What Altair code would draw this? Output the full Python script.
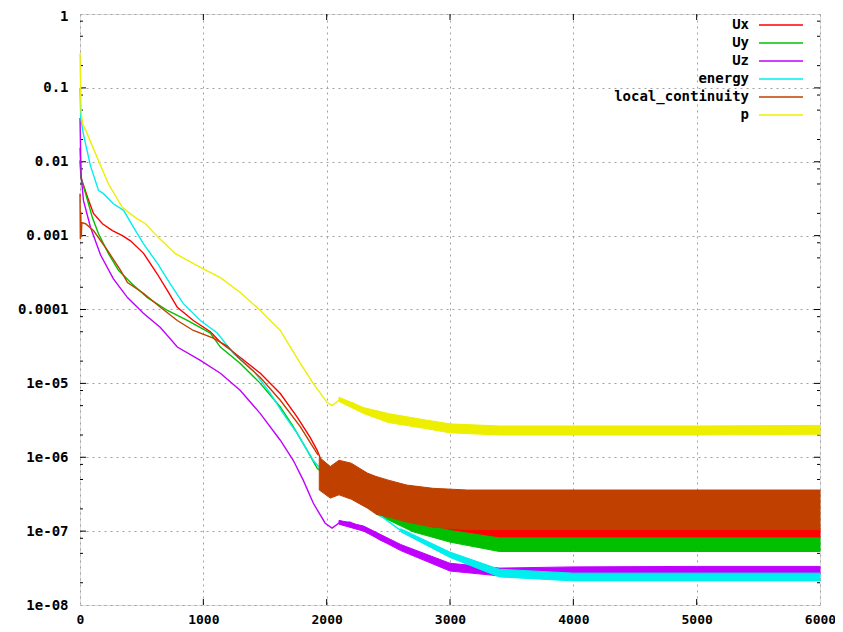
import altair as alt
import pandas as pd

SERIES = ["Ux", "Uy", "Uz", "energy", "local_continuity", "p"]
COLORS = ["#ff0000", "#00c000", "#c000ff", "#00eeee", "#c04000", "#eeee00"]

# ---- smooth parts (iteration, residual) ----
ux_x = [0, 8, 61, 109, 182, 263, 344, 409, 514, 628, 709, 789, 919, 1057, 1138, 1300, 1462, 1624, 1761, 1866, 1923, 1988, 2271, 2595, 2838, 3137, 3405, 6000]
ux_y = [0.0104, 0.0061, 0.0033, 0.002, 0.00145, 0.00117, 0.001, 0.00085, 0.00058, 0.0003, 0.00018, 0.000107, 7.1e-5, 5.0e-5, 3.6e-5, 2.24e-5, 1.37e-5, 7.3e-6, 3.5e-6, 1.86e-6, 1.24e-6, 6.6e-7, 2.6e-7, 1.65e-7, 1.32e-7, 1.03e-7, 9.3e-8, 9.5e-8]

uy_x = [0, 8, 61, 101, 150, 231, 312, 425, 547, 709, 870, 1057, 1138, 1300, 1462, 1624, 1729, 1842, 1923, 2190, 2595, 2862, 3137, 3405, 6000]
uy_y = [0.0155, 0.0061, 0.003, 0.00174, 0.00106, 0.00057, 0.00034, 0.00022, 0.000145, 9.7e-5, 7.1e-5, 4.8e-5, 3.1e-5, 1.86e-5, 1.0e-5, 4.8e-6, 2.6e-6, 1.24e-6, 7.1e-7, 3.1e-7, 1.4e-7, 9.4e-8, 7.6e-8, 6.6e-8, 6.6e-8]

uz_x = [0, 8, 28, 85, 166, 271, 385, 514, 652, 789, 976, 1138, 1300, 1462, 1624, 1729, 1810, 1891, 1988, 2044, 2109, 2190, 2328, 2433, 2595, 2814, 2999, 3186, 3405, 6000]
uz_y = [0.039, 0.0069, 0.003, 0.0013, 0.00055, 0.00026, 0.000145, 8.9e-5, 5.7e-5, 3.1e-5, 2.05e-5, 1.37e-5, 8.0e-6, 3.9e-6, 1.7e-6, 9.1e-7, 4.9e-7, 2.4e-7, 1.28e-7, 1.1e-7, 1.32e-7, 1.32e-7, 1.03e-7, 7.6e-8, 6.0e-8, 4.5e-8, 3.25e-8, 2.8e-8, 2.8e-8, 2.95e-8]

en_x = [0, 6, 25, 45, 85, 150, 190, 271, 353, 433, 514, 628, 733, 838, 976, 1113, 1243, 1405, 1543, 1648, 1761, 1891, 2028, 2231, 2409, 2595, 2862, 3137, 3405, 3648, 6000]
en_y = [0.1, 0.04, 0.025, 0.0175, 0.0088, 0.0041, 0.0037, 0.0027, 0.0022, 0.0013, 0.00078, 0.00042, 0.00022, 0.00012, 7.1e-5, 4.8e-5, 2.55e-5, 1.5e-5, 7.3e-6, 3.9e-6, 2.1e-6, 9.1e-7, 4.9e-7, 2.6e-7, 1.75e-7, 1.03e-7, 6.0e-8, 3.7e-8, 2.7e-8, 2.4e-8, 2.4e-8]

lc_x = [0, 3, 6, 10, 15, 45, 109, 223, 328, 385, 514, 652, 789, 919, 1081, 1194, 1300, 1462, 1624, 1786, 1891, 1931]
lc_y = [0.0037, 0.0009, 0.0021, 0.00095, 0.0015, 0.00145, 0.00117, 0.00063, 0.00034, 0.000232, 0.000166, 0.000107, 7.1e-5, 5.2e-5, 4.1e-5, 3.2e-5, 2.1e-5, 1.2e-5, 5.9e-6, 2.6e-6, 1.36e-6, 1.07e-6]

p_x = [0, 8, 20, 45, 150, 231, 344, 449, 530, 636, 773, 992, 1138, 1300, 1462, 1624, 1786, 1891, 2004, 2044, 2109, 2215, 2328, 2490, 2733, 2999, 3405, 6000]
p_y = [0.29, 0.05, 0.033, 0.027, 0.0103, 0.005, 0.0024, 0.00175, 0.00145, 0.00094, 0.00057, 0.00036, 0.00027, 0.00017, 9.7e-5, 5.2e-5, 1.86e-5, 1.0e-5, 5.5e-6, 5.0e-6, 6.1e-6, 5.4e-6, 4.1e-6, 3.4e-6, 2.9e-6, 2.46e-6, 2.3e-6, 2.35e-6]

# ---- noisy parts: envelope (low / high) ----
ux_bx = [2500, 2800, 3100, 3400, 4000, 5000, 6000]
ux_lo = [1.5e-7, 1.15e-7, 9.0e-8, 7.9e-8, 8.1e-8, 8.1e-8, 8.1e-8]
ux_hi = [2.05e-7, 1.58e-7, 1.23e-7, 1.09e-7, 1.11e-7, 1.11e-7, 1.11e-7]

uy_bx = [2400, 2700, 3000, 3400, 4000, 5000, 6000]
uy_lo = [1.7e-7, 9.8e-8, 7.1e-8, 5.3e-8, 5.3e-8, 5.3e-8, 5.3e-8]
uy_hi = [2.1e-7, 1.35e-7, 1.02e-7, 8.1e-8, 8.1e-8, 8.1e-8, 8.1e-8]

uz_bx = [2100, 2300, 2600, 3000, 3400, 4000, 5000, 6000]
uz_lo = [1.24e-7, 1.0e-7, 5.45e-8, 2.88e-8, 2.48e-8, 2.57e-8, 2.61e-8, 2.61e-8]
uz_hi = [1.4e-7, 1.17e-7, 6.6e-8, 3.67e-8, 3.16e-8, 3.28e-8, 3.33e-8, 3.33e-8]

en_bx = [2600, 3000, 3400, 4000, 5000, 6000]
en_lo = [9.8e-8, 4.4e-8, 2.4e-8, 2.12e-8, 2.12e-8, 2.12e-8]
en_hi = [1.08e-7, 5.2e-8, 3.05e-8, 2.7e-8, 2.7e-8, 2.7e-8]

lc_bx = [1940, 2030, 2100, 2200, 2330, 2400, 2500, 2650, 2860, 3140, 3400, 6000]
lc_lo = [3.6e-7, 2.8e-7, 3.1e-7, 2.7e-7, 2.05e-7, 1.7e-7, 1.55e-7, 1.33e-7, 1.13e-7, 1.05e-7, 1.05e-7, 1.05e-7]
lc_hi = [1.0e-6, 7.5e-7, 9.1e-7, 8.3e-7, 6.1e-7, 5.5e-7, 4.9e-7, 4.2e-7, 3.8e-7, 3.6e-7, 3.6e-7, 3.6e-7]

p_bx = [2100, 2300, 2500, 2800, 3000, 3400, 4000, 5000, 6000]
p_lo = [5.7e-6, 3.9e-6, 2.95e-6, 2.45e-6, 2.14e-6, 2.0e-6, 2.0e-6, 2.0e-6, 2.05e-6]
p_hi = [6.5e-6, 4.7e-6, 3.9e-6, 3.2e-6, 2.83e-6, 2.65e-6, 2.65e-6, 2.65e-6, 2.7e-6]

# ---- axes ----
X_TICKS = [0, 1000, 2000, 3000, 4000, 5000, 6000]
Y_MAJOR = [1, 0.1, 0.01, 0.001, 0.0001, 1e-5, 1e-6, 1e-7, 1e-8]
Y_LABELS = ["1", "0.1", "0.01", "0.001", "0.0001", "1e-05", "1e-06", "1e-07", "1e-08"]
Y_MINOR = [8e-1, 5e-1, 2e-1, 8e-2, 5e-2, 2e-2, 8e-3, 5e-3, 2e-3, 8e-4, 5e-4, 2e-4,
           8e-5, 5e-5, 2e-5, 8e-6, 5e-6, 2e-6, 8e-7, 5e-7, 2e-7, 8e-8, 5e-8, 2e-8]

W, H = 740, 591
FONT = "DejaVu Sans Mono"

lines = {
    "Ux": (ux_x, ux_y), "Uy": (uy_x, uy_y), "Uz": (uz_x, uz_y),
    "energy": (en_x, en_y), "local_continuity": (lc_x, lc_y), "p": (p_x, p_y),
}
bands = {
    "Ux": (ux_bx, ux_lo, ux_hi), "Uy": (uy_bx, uy_lo, uy_hi), "Uz": (uz_bx, uz_lo, uz_hi),
    "energy": (en_bx, en_lo, en_hi), "local_continuity": (lc_bx, lc_lo, lc_hi), "p": (p_bx, p_lo, p_hi),
}

xs = alt.Scale(domain=[0, 6000], nice=False, zero=False)
ys = alt.Scale(type="log", domain=[1e-8, 1], nice=False)
label_expr = "[" + ",".join("'%s'" % s for s in Y_LABELS) + "][round(-log(datum.value)/LN10)]"

xaxis = alt.Axis(values=X_TICKS, title=None, ticks=False, domain=False, grid=True, format="d",
                 gridDash=[2, 4], gridColor="#a0a0a0", labelPadding=8,
                 labelFont=FONT, labelFontSize=13, labelFontWeight="bold", labelColor="black",
                 labelFlush=False)
yaxis = alt.Axis(values=Y_MAJOR, title=None, ticks=False, domain=False, grid=True,
                 gridDash=[2, 4], gridColor="#a0a0a0", labelPadding=12, labelExpr=label_expr,
                 labelFont=FONT, labelFontSize=14, labelFontWeight="bold", labelColor="black",
                 labelFlush=False,
                 labelOffset={"condition": {"test": "datum.value >= 1", "value": 2}, "value": 0})

# legend sample line drawn to the right of the (right-aligned) label
LEGEND_LINE = "M3.4,0L12.2,0"
cscale = alt.Scale(domain=SERIES, range=COLORS)
legend = alt.Legend(title=None, orient="none", legendX=655, legendY=4, symbolType=LEGEND_LINE,
                    symbolSize=100, symbolStrokeWidth=1.5, labelAlign="right", labelOffset=0,
                    labelFont=FONT, labelFontSize=14, labelFontWeight="bold", labelColor="black",
                    labelLimit=400, rowPadding=4, padding=0, labelBaseline="middle",
                    symbolOpacity=1, symbolFillColor="transparent")

layers = []
for name, col in zip(SERIES, COLORS):
    lx, ly = lines[name]
    ldf = pd.DataFrame({"series": name, "x": lx, "y": ly})
    layers.append(
        alt.Chart(ldf).mark_line(strokeWidth=1.4).encode(
            x=alt.X("x:Q", scale=xs, axis=xaxis),
            y=alt.Y("y:Q", scale=ys, axis=yaxis),
            color=alt.Color("series:N", scale=cscale, legend=legend),
        )
    )
    bx, lo, hi = bands[name]
    bdf = pd.DataFrame({"x": bx, "lo": lo, "hi": hi})
    layers.append(
        alt.Chart(bdf).mark_area(color=col, opacity=1, stroke=col, strokeWidth=1).encode(
            x=alt.X("x:Q", scale=xs, axis=xaxis),
            y=alt.Y("lo:Q", scale=ys, axis=yaxis),
            y2="hi:Q",
        )
    )

# inward ticks (gnuplot style) on all four sides
ymaj = pd.DataFrame({"v": Y_MAJOR[1:-1]})
ymin = pd.DataFrame({"v": Y_MINOR})
xt = pd.DataFrame({"v": X_TICKS[1:-1]})
Yv = alt.Y("v:Q", scale=ys, axis=yaxis)
Xv = alt.X("v:Q", scale=xs, axis=xaxis)
tick_layers = [
    alt.Chart(ymaj).mark_rule(color="black").encode(y=Yv, x=alt.value(0), x2=alt.value(6)),
    alt.Chart(ymaj).mark_rule(color="black").encode(y=Yv, x=alt.value(W - 6), x2=alt.value(W)),
    alt.Chart(ymin).mark_rule(color="black").encode(y=Yv, x=alt.value(0), x2=alt.value(3)),
    alt.Chart(ymin).mark_rule(color="black").encode(y=Yv, x=alt.value(W - 3), x2=alt.value(W)),
    alt.Chart(xt).mark_rule(color="black").encode(x=Xv, y=alt.value(H - 6), y2=alt.value(H)),
    alt.Chart(xt).mark_rule(color="black").encode(x=Xv, y=alt.value(0), y2=alt.value(6)),
]

chart = alt.layer(*tick_layers, *layers).properties(
    width=W, height=H,
    autosize=alt.AutoSizeParams(type="none"),
    padding={"left": 72, "top": 6, "right": 15, "bottom": 22},
).configure_view(stroke="black", strokeWidth=1).configure(background="white")

chart.save("out.html", embed_options={"renderer": "svg", "actions": False})
